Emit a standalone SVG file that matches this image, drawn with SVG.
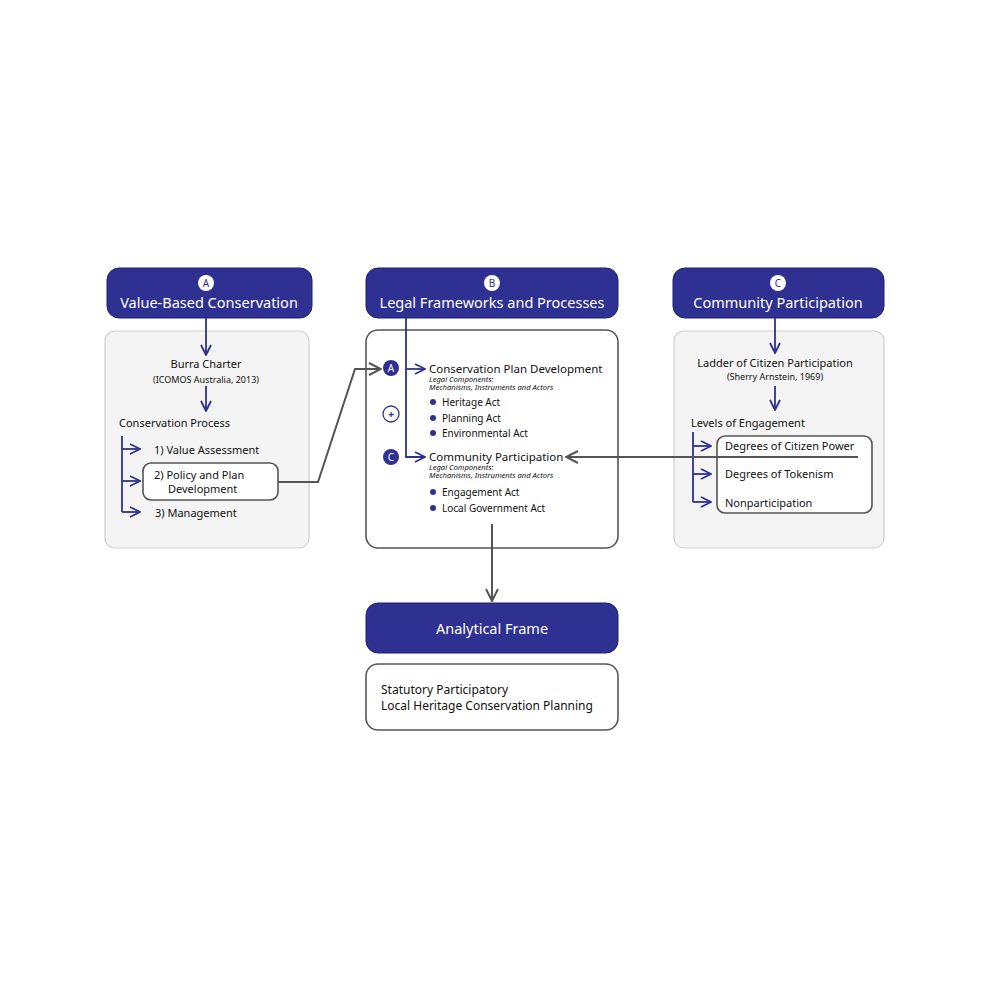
<svg xmlns="http://www.w3.org/2000/svg" width="1000" height="1000" viewBox="0 0 1000 1000">
<defs>
<style>
text{font-family:"Noto Sans","Open Sans",sans-serif;fill:#111}
.hdr{fill:#2e3192;stroke:#1e2075;stroke-width:1}
.ht{fill:#fff;font-size:14.5px;text-anchor:middle}
.pg{fill:#f4f4f4;stroke:#cfcfcf;stroke-width:1.2}
.pw{fill:#fff;stroke:#555;stroke-width:1.6}
.bl{fill:none;stroke:#2e3192;stroke-width:1.8}
.gl{fill:none;stroke:#555;stroke-width:2}
.t11{font-size:11px}
.t10{font-size:10px}
.t8{font-size:9px}
.it{font-size:7.6px;font-style:italic}
.lc{fill:#fff;font-size:10px;text-anchor:middle}
.dc{fill:#2e3192}
</style>
<marker id="ab" viewBox="0 0 12 12" refX="11" refY="6" markerWidth="12" markerHeight="12" markerUnits="userSpaceOnUse" orient="auto">
<path d="M1,1 L11,6 L1,11" fill="none" stroke="#2e3192" stroke-width="1.8"/>
</marker>
<marker id="ag" viewBox="0 0 14 14" refX="13" refY="7" markerWidth="14" markerHeight="14" markerUnits="userSpaceOnUse" orient="auto">
<path d="M1,1 L13,7 L1,13" fill="none" stroke="#555" stroke-width="2"/>
</marker>
</defs>

<g id="nodeA">
<rect class="pg" x="105" y="331" width="204" height="217" rx="10"/>
<rect class="hdr" x="107" y="268" width="205" height="50" rx="12"/>
<circle cx="206" cy="283" r="8" fill="#fff"/>
<text class="lc" x="206" y="287" style="fill:#2e3192">A</text>
<text class="ht" x="209" y="308">Value-Based Conservation</text>
<text class="t11" x="206" y="368" text-anchor="middle">Burra Charter</text>
<text class="t8" x="206" y="383" text-anchor="middle">(ICOMOS Australia, 2013)</text>
<text class="t11" x="119" y="427">Conservation Process</text>
<text class="t11" x="154" y="454">1) Value Assessment</text>
<rect x="143" y="463" width="135" height="37" rx="8" fill="#fff" stroke="#555" stroke-width="1.6"/>
<text class="t11" x="154" y="479">2) Policy and Plan</text>
<text class="t11" x="168" y="493">Development</text>
<text class="t11" x="155" y="517">3) Management</text>
</g>

<g id="nodeB">
<rect class="pw" x="366" y="330" width="252" height="218" rx="12"/>
<rect class="hdr" x="366" y="268" width="252" height="50" rx="12"/>
<circle cx="492" cy="283" r="8" fill="#fff"/>
<text class="lc" x="492" y="287" style="fill:#2e3192">B</text>
<text class="ht" x="492" y="308">Legal Frameworks and Processes</text>
<circle cx="391" cy="368" r="8" fill="#2e3192"/>
<text class="lc" x="391" y="372">A</text>
<circle cx="391" cy="414" r="8" fill="#fff" stroke="#2e3192" stroke-width="1.3"/>
<text x="391" y="417.5" text-anchor="middle" style="font-size:10px;fill:#2e3192;font-weight:bold">+</text>
<circle cx="391" cy="457" r="8" fill="#2e3192"/>
<text class="lc" x="391" y="461">C</text>
<text x="429" y="373" style="font-size:11.5px">Conservation Plan Development</text>
<text class="it" x="429" y="382">Legal Components:</text>
<text class="it" x="429" y="390">Mechanisms, Instruments and Actors</text>
<circle class="dc" cx="433" cy="402" r="3"/>
<text class="t10" x="442" y="406">Heritage Act</text>
<circle class="dc" cx="433" cy="418" r="3"/>
<text class="t10" x="442" y="422">Planning Act</text>
<circle class="dc" cx="433" cy="433" r="3"/>
<text class="t10" x="442" y="437">Environmental Act</text>
<text x="429" y="461" style="font-size:11.5px">Community Participation</text>
<text class="it" x="429" y="470">Legal Components:</text>
<text class="it" x="429" y="478">Mechanisms, Instruments and Actors</text>
<circle class="dc" cx="433" cy="492" r="3"/>
<text class="t10" x="442" y="496">Engagement Act</text>
<circle class="dc" cx="433" cy="508" r="3"/>
<text class="t10" x="442" y="512">Local Government Act</text>
</g>

<g id="nodeC">
<rect class="pg" x="674" y="331" width="210" height="217" rx="10"/>
<rect class="hdr" x="673" y="268" width="211" height="50" rx="12"/>
<circle cx="778" cy="283" r="8" fill="#fff"/>
<text class="lc" x="778" y="287" style="fill:#2e3192">C</text>
<text class="ht" x="778" y="308">Community Participation</text>
<text class="t11" x="775" y="367" text-anchor="middle">Ladder of Citizen Participation</text>
<text class="t8" x="775" y="380" text-anchor="middle">(Sherry Arnstein, 1969)</text>
<text class="t11" x="691" y="427">Levels of Engagement</text>
<rect x="717" y="436" width="155" height="77" rx="8" fill="#fff" stroke="#555" stroke-width="1.6"/>
<text class="t11" x="725" y="450">Degrees of Citizen Power</text>
<text class="t11" x="725" y="478">Degrees of Tokenism</text>
<text class="t11" x="725" y="507">Nonparticipation</text>
</g>

<g id="nodeAF">
<rect class="hdr" x="366" y="603" width="252" height="50" rx="12"/>
<text class="ht" x="492" y="634">Analytical Frame</text>
</g>

<g id="nodeOut">
<rect class="pw" x="366" y="664" width="252" height="66" rx="12"/>
<text x="381" y="694" style="font-size:12px">Statutory Participatory</text>
<text x="381" y="710" style="font-size:12px">Local Heritage Conservation Planning</text>
</g>

<g id="connectors">
<path class="bl" d="M206,318 V355" marker-end="url(#ab)"/>
<path class="bl" d="M206,386 V411" marker-end="url(#ab)"/>
<path class="bl" d="M122,436 V512"/>
<path class="bl" d="M122,449 H140" marker-end="url(#ab)"/>
<path class="bl" d="M122,481 H140" marker-end="url(#ab)"/>
<path class="bl" d="M122,512 H140" marker-end="url(#ab)"/>
<path class="bl" d="M406,318 V457 H425" marker-end="url(#ab)"/>
<path class="bl" d="M406,369 H425" marker-end="url(#ab)"/>
<path class="bl" d="M775,318 V353" marker-end="url(#ab)"/>
<path class="bl" d="M775,386 V410" marker-end="url(#ab)"/>
<path class="bl" d="M693,432 V502"/>
<path class="bl" d="M693,446 H711" marker-end="url(#ab)"/>
<path class="bl" d="M693,474 H711" marker-end="url(#ab)"/>
<path class="bl" d="M693,502 H711" marker-end="url(#ab)"/>
<path class="gl" d="M278,482 H318 L355,369 H381" marker-end="url(#ag)"/>
<path class="gl" d="M858,457 H566" marker-end="url(#ag)"/>
<path class="gl" d="M492,524 V601" marker-end="url(#ag)"/>
</g>
</svg>
